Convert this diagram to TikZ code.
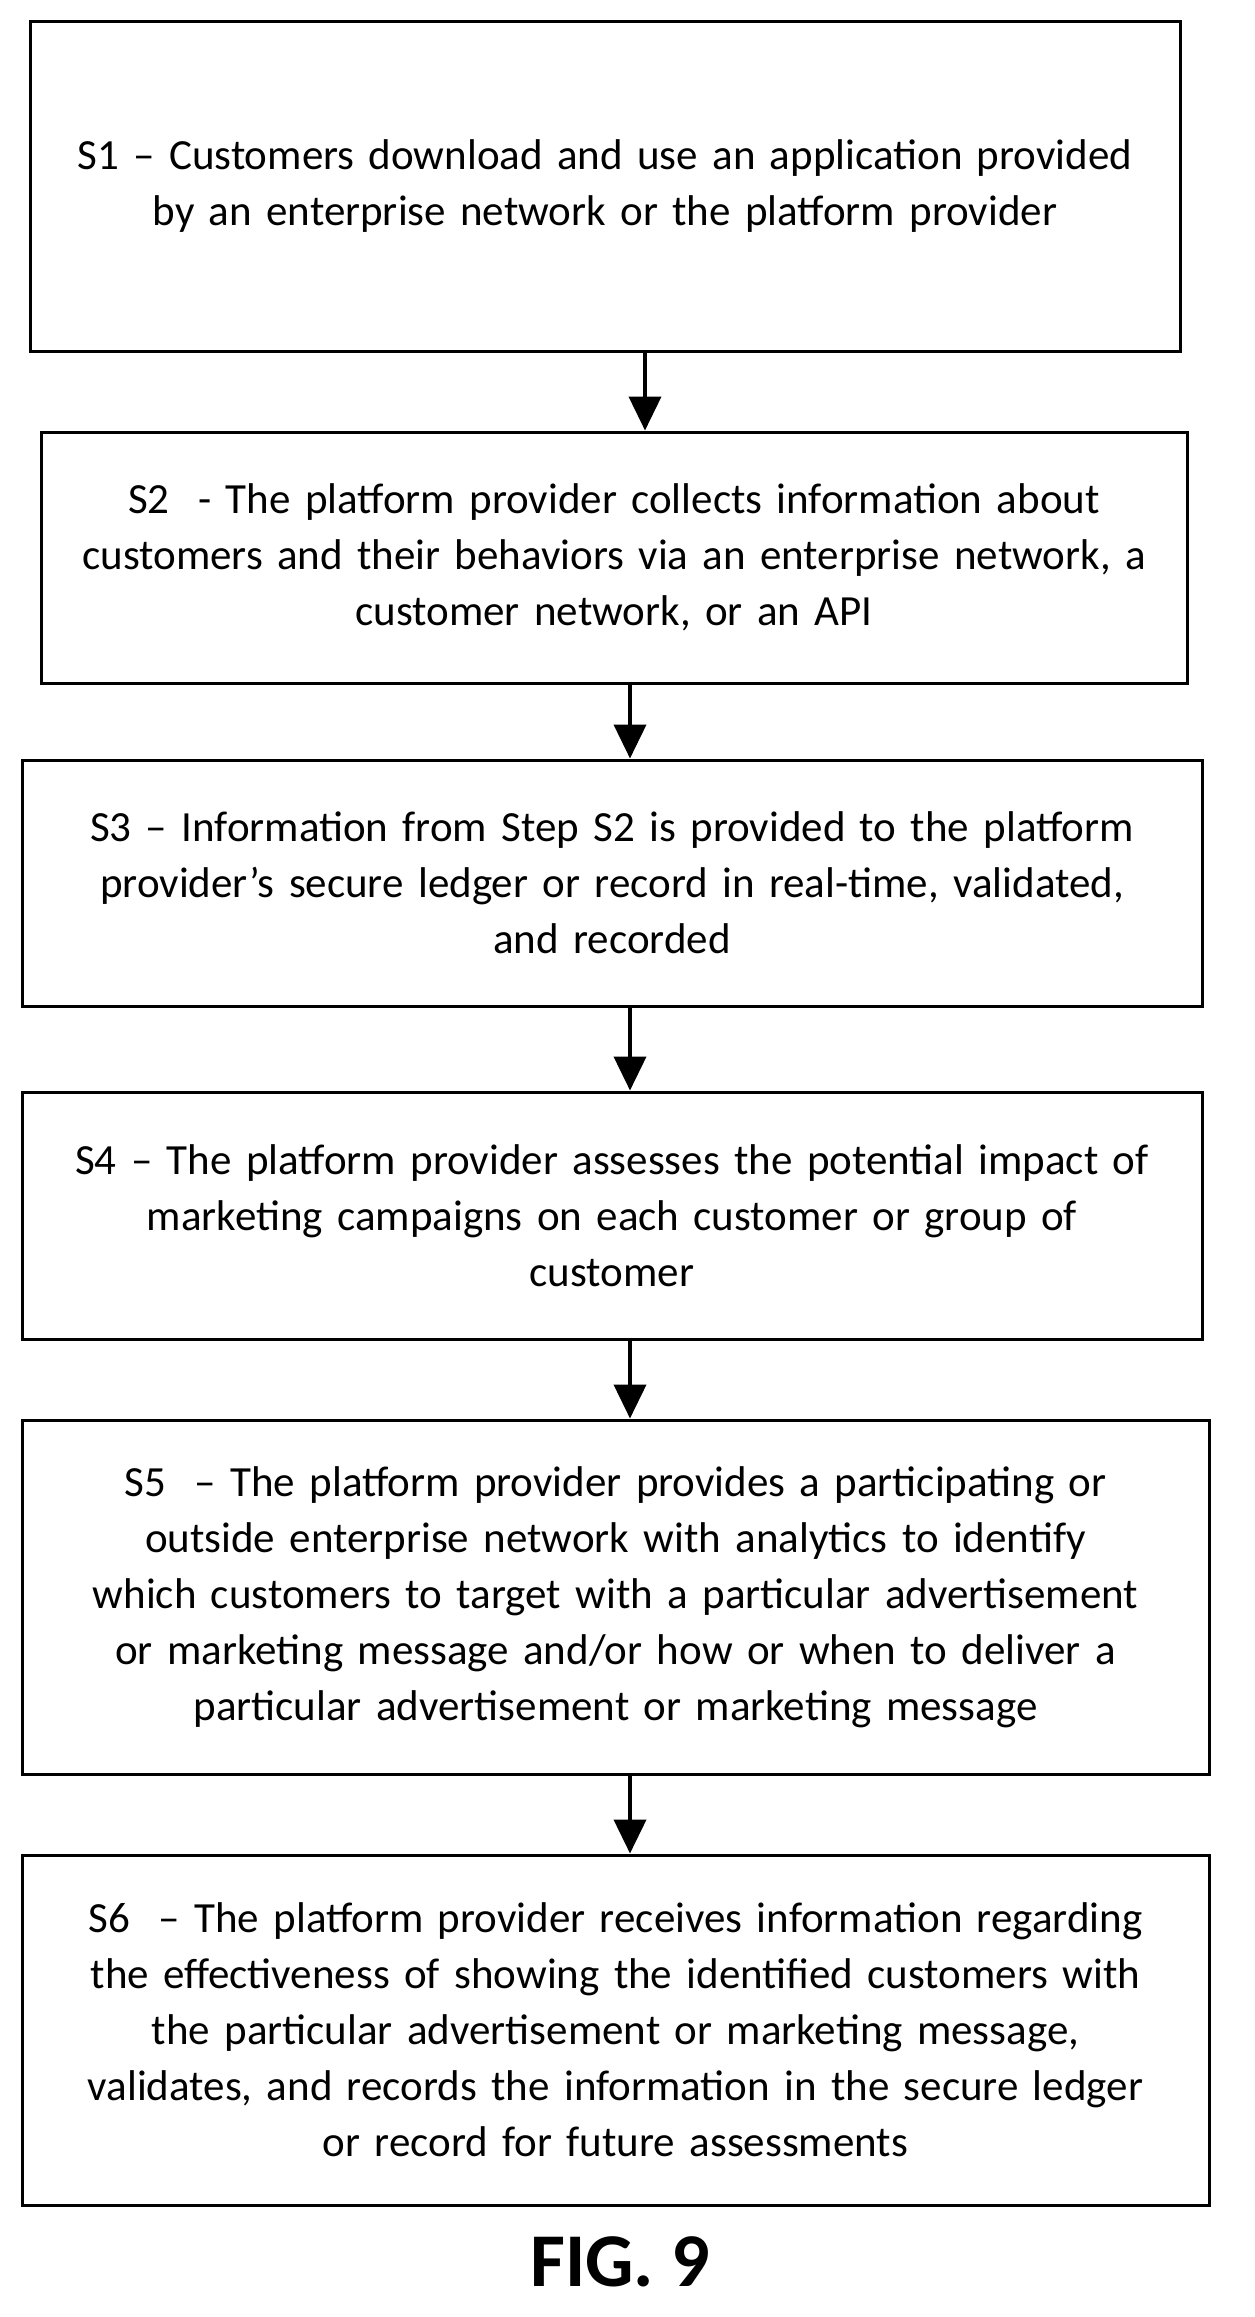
\documentclass[tikz,border=0pt]{standalone}
\usepackage{fontspec}
\setmainfont{Carlito}
\usetikzlibrary{arrows.meta}
\tikzset{every picture/.style={line width=1.5pt}}
\tikzset{stepbox/.style={draw,line width=1.5pt,align=center,inner sep=0pt,font=\fontsize{21.5}{28}\selectfont},
  flow/.style={line width=2pt,-{Triangle[length=17pt,width=16pt]}}}
\begin{document}
\begin{tikzpicture}[x=0.5pt,y=0.5pt,yscale=-1,xscale=1]
\useasboundingbox (0,0) rectangle (1254,2317);

% Step boxes
\node (b1) [stepbox,minimum width=575pt,minimum height=164.5pt,text width=570pt] at (605,186.5) {S1 -- Customers download and use an application provided\\by an enterprise network or the platform provider};
\node (b2) [stepbox,minimum width=573pt,minimum height=125.5pt,text width=570pt] at (614,557.5) {S2~ - The platform provider collects information about\\customers and their behaviors via an enterprise network, a\\customer network, or an API};
\node (b3) [stepbox,minimum width=590pt,minimum height=123pt,text width=585pt] at (612,883) {S3 -- Information from Step S2 is provided to the platform\\provider’s secure ledger or record in real-time, validated,\\and recorded\\[14pt]};
\node (b4) [stepbox,minimum width=590pt,minimum height=123.5pt,text width=585pt] at (612,1215.5) {S4 -- The platform provider assesses the potential impact of\\marketing campaigns on each customer or group of\\customer};
\node (b5) [stepbox,minimum width=593.5pt,minimum height=177pt,text width=585pt] at (615.5,1597) {S5~ -- The platform provider provides a participating or\\outside enterprise network with analytics to identify\\which customers to target with a particular advertisement\\or marketing message and/or how or when to deliver a\\particular advertisement or marketing message};
\node (b6) [stepbox,minimum width=593.5pt,minimum height=175pt,text width=585pt] at (615.5,2030) {S6~ -- The platform provider receives information regarding\\the effectiveness of showing the identified customers with\\the particular advertisement or marketing message,\\validates, and records the information in the secure ledger\\or record for future assessments};

% Arrows
\draw [flow] (b1.south -| 645,0) -- (b2.north -| 645,0);
\draw [flow] (b2.south -| 630,0) -- (b3.north -| 630,0);
\draw [flow] (b3.south -| 630,0) -- (b4.north -| 630,0);
\draw [flow] (b4.south -| 630,0) -- (b5.north -| 630,0);
\draw [flow] (b5.south -| 630,0) -- (b6.north -| 630,0);

% Caption
\node (fig) [font=\fontsize{38}{40}\selectfont\bfseries] at (620,2262) {FIG. 9};
\end{tikzpicture}
\end{document}
